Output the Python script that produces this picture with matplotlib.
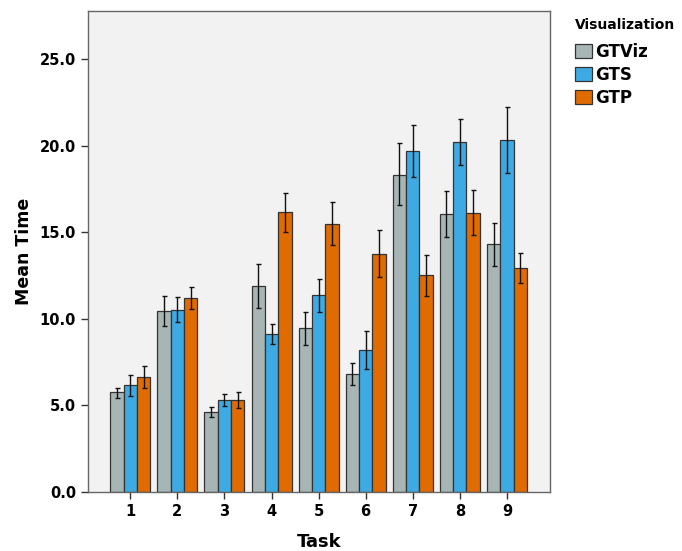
import matplotlib.pyplot as plt
import numpy as np

tasks = [1, 2, 3, 4, 5, 6, 7, 8, 9]
series = ["GTViz", "GTS", "GTP"]
colors = ["#a7b5b5", "#3eaae3", "#e06b00"]

gtviz_mean = [5.76, 10.45, 4.62, 11.89, 9.45, 6.81, 18.32, 16.05, 14.32]
gtviz_low = [5.45, 9.60, 4.35, 10.60, 8.51, 6.18, 16.57, 14.74, 13.07]
gtviz_high = [6.02, 11.30, 4.89, 13.16, 10.39, 7.47, 20.13, 17.40, 15.55]

gts_mean = [6.16, 10.51, 5.33, 9.10, 11.36, 8.20, 19.69, 20.19, 20.32]
gts_low = [5.54, 9.82, 4.97, 8.53, 10.41, 7.08, 18.21, 18.88, 18.40]
gts_high = [6.75, 11.26, 5.66, 9.68, 12.30, 9.31, 21.19, 21.52, 22.25]

gtp_mean = [6.66, 11.18, 5.33, 16.15, 15.49, 13.74, 12.53, 16.13, 12.95]
gtp_low = [6.02, 10.55, 4.83, 15.01, 14.24, 12.39, 11.32, 14.84, 12.05]
gtp_high = [7.29, 11.82, 5.79, 17.28, 16.76, 15.11, 13.68, 17.44, 13.82]

means = [gtviz_mean, gts_mean, gtp_mean]
lows = [gtviz_low, gts_low, gtp_low]
highs = [gtviz_high, gts_high, gtp_high]

fig = plt.figure(figsize=(6.82, 5.51), dpi=100)
ax = fig.add_axes([0.129, 0.107, 0.677, 0.873])
ax.set_facecolor("#f2f2f2")

x = np.array(tasks, dtype=float)
width = 0.283
for i, name in enumerate(series):
    pos = x + (i - 1) * width
    m = np.array(means[i])
    err = [m - np.array(lows[i]), np.array(highs[i]) - m]
    ax.bar(pos, m, width=width, color=colors[i], edgecolor="#333333",
           linewidth=0.9, label=name, zorder=2)
    ax.errorbar(pos, m, yerr=err, fmt="none", ecolor="#111111",
                elinewidth=1.0, capsize=1.8, capthick=1.0, zorder=3)

ax.set_xlim(0.1, 9.91)
ax.set_ylim(0, 27.77)
ax.set_xticks(tasks)
ax.set_yticks([0, 5, 10, 15, 20, 25])
ax.set_yticklabels([f"{v:.1f}" for v in [0, 5, 10, 15, 20, 25]])
ax.tick_params(axis="both", direction="out", length=5, width=1.0,
               color="#333333", labelsize=10.5)
for lab in ax.get_xticklabels() + ax.get_yticklabels():
    lab.set_fontweight("semibold")
for sp in ax.spines.values():
    sp.set_color("#666666")
    sp.set_linewidth(1.0)

ax.set_xlabel("Task", fontsize=13, fontweight="bold", labelpad=10)
ax.set_ylabel("Mean Time", fontsize=12.5, fontweight="bold", labelpad=5)

leg = fig.legend(loc="upper left", bbox_to_anchor=(0.843, 0.968),
                 title="Visualization", frameon=False, fontsize=12,
                 handlelength=1.0, handleheight=1.0, handletextpad=0.2,
                 labelspacing=0.3, borderaxespad=0, borderpad=0,
                 alignment="left")
leg.get_title().set_fontweight("bold")
leg.get_title().set_fontsize(10)
leg._legend_box.sep = 8
for t in leg.get_texts():
    t.set_fontweight("bold")

fig.savefig("out.png", dpi=100)
